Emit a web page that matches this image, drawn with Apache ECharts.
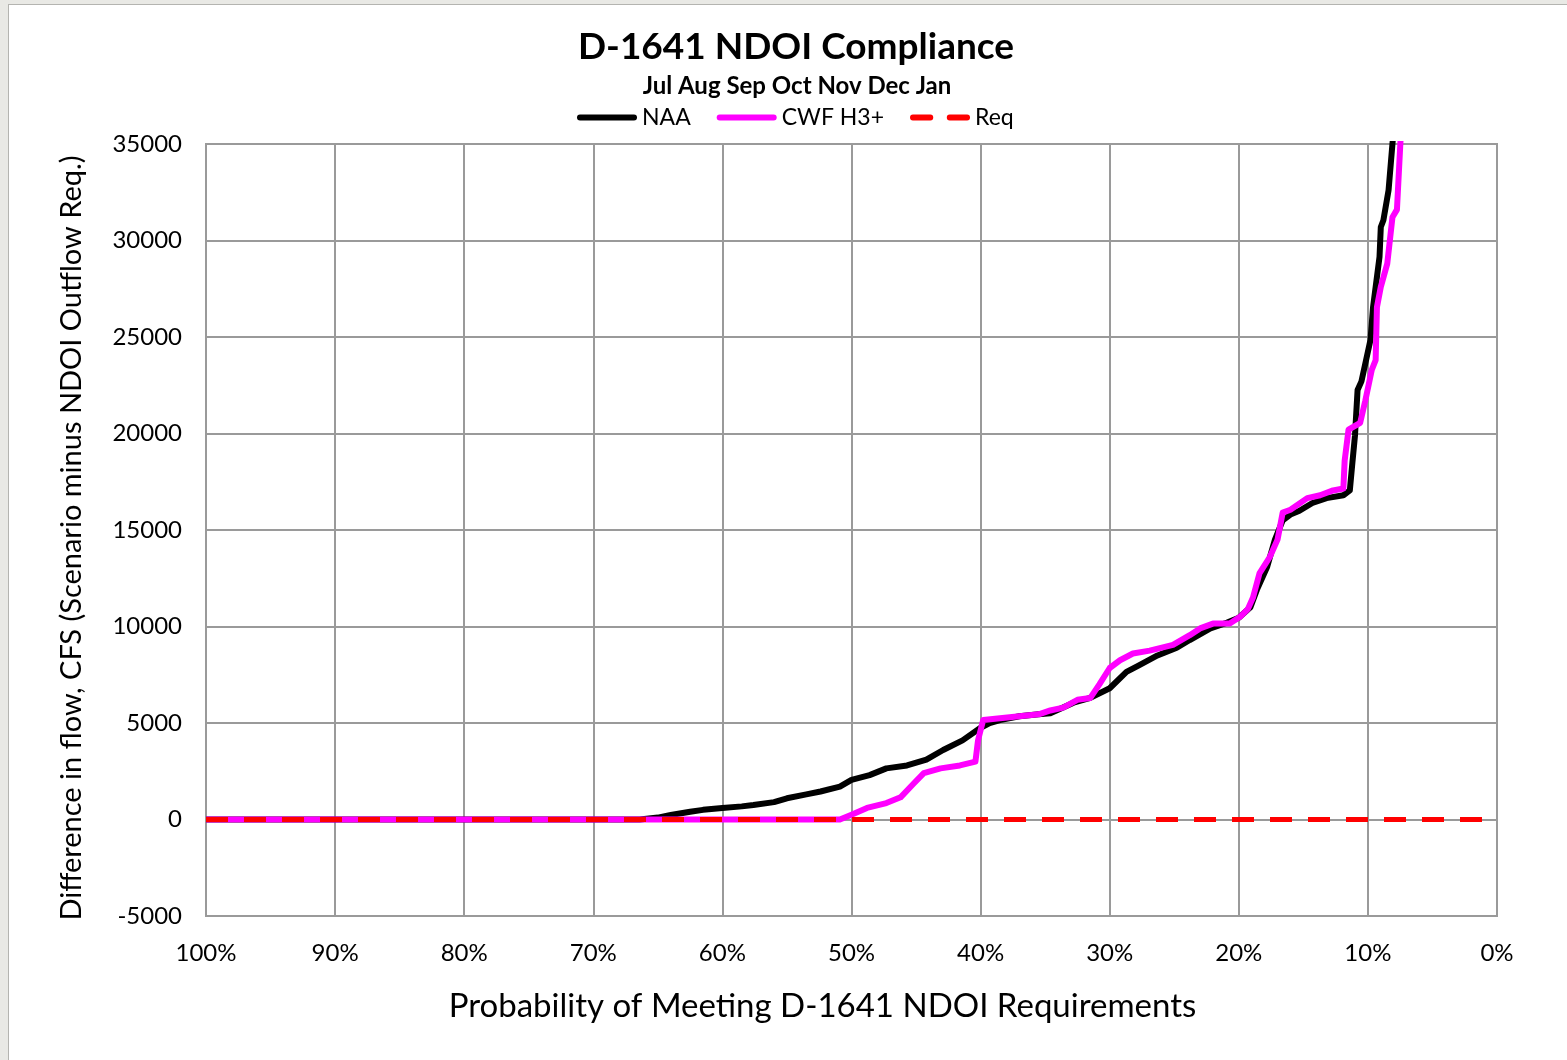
<!DOCTYPE html>
<html>
<head>
<meta charset="utf-8">
<script src="https://cdn.jsdelivr.net/npm/echarts@6/dist/echarts.min.js"></script>
<style>
  html, body { margin: 0; padding: 0; background: #e9e9e5; }
  #frame { position: absolute; left: 8px; top: 4px; right: 0; bottom: 0; background: #fff;
           border-left: 1px solid #b4b4b0; border-top: 1px solid #b4b4b0; }
  #chart { position: absolute; left: 0; top: 0; width: 1567px; height: 1060px; }
</style>
</head>
<body>
<div id="frame"></div>
<div id="chart"></div>
<script>
// exceedance probability (%) and difference in flow (cfs)
const naaX = [100, 66.4, 65, 64, 62.5, 61.5, 60, 58.5, 57.6, 56, 55, 53.5, 52.4, 50.9, 50, 48.6, 47.3, 45.7, 44.2, 42.9, 41.4, 40, 39.3, 38.5, 37, 35.5, 34.6,
  32.8, 31.5, 30, 28.7, 27.7, 26.3, 24.8, 23.8, 22.2, 20.9, 20, 19.1, 18.6, 17.8, 17.2, 16.6, 16, 15.3, 14.3, 13.2, 11.9, 11.4,
  11.2, 11.0, 10.8, 10.5, 9.8, 9.6, 9.1, 9.0, 8.8, 8.4, 8.1, 7.9];
const naaY = [0, 0, 100, 230, 400, 500, 600, 680, 750, 900, 1100, 1300, 1450, 1700, 2050, 2300, 2650, 2800, 3100, 3600, 4100, 4750, 5000, 5150, 5350, 5450, 5500,
  6050, 6300, 6800, 7650, 8000, 8500, 8900, 9300, 9900, 10200, 10450, 11000, 11900, 13100, 14500, 15500, 15800, 16000, 16400, 16650, 16800, 17050,
  18500, 19900, 22250, 22700, 24850, 26550, 29150, 30700, 31050, 32600, 35000, 36500];

const cwfX = [100, 50.9, 50, 48.8, 47.3, 46.2, 45.2, 44.4, 43.1, 41.6, 40.4, 40.2, 39.8, 38.5, 37, 35.5, 34.6, 33.6, 32.5, 31.5, 30.8,
  30, 29.2, 28.2, 26.9, 25.1, 23.8, 23, 22, 20.7, 19.9, 19.3, 18.9, 18.4, 17.6, 17, 16.6, 16, 14.7, 13.7, 12.7, 11.9, 11.8, 11.5,
  10.6, 10.2, 9.7, 9.4, 9.3, 9.0, 8.5, 8.1, 7.75, 7.5, 7.4];
const cwfY = [0, 0, 250, 600, 850, 1150, 1850, 2400, 2650, 2800, 3000, 4100, 5150, 5250, 5350, 5450, 5650, 5800, 6200, 6300, 7000,
  7850, 8250, 8600, 8750, 9050, 9550, 9900, 10150, 10150, 10500, 10900, 11500, 12750, 13600, 14500, 15900, 16050, 16650, 16800, 17050, 17150, 18600, 20200,
  20550, 21700, 23300, 23800, 26550, 27600, 28800, 31200, 31600, 34850, 36000];

const reqX = [100, 0];
const reqY = [0, 0];

const xTicks = [0, 10, 20, 30, 40, 50, 60, 70, 80, 90, 100];

const font = 'Lato';
const pair = (xs, ys) => xs.map((x, i) => [x, ys[i]]);

const solidIcon = 'path://M3,0H57A3,3,0,0,1,57,6H3A3,3,0,0,1,3,0Z';
const dashIcon = 'path://M2,0H20A3,3,0,0,1,20,6H2A3,3,0,0,1,2,0Z M40,0H58A3,3,0,0,1,58,6H40A3,3,0,0,1,40,0Z';

const chart = echarts.init(document.getElementById('chart'));
chart.setOption({
  animation: false,
  textStyle: { fontFamily: font, color: '#000' },
  title: [
    { text: 'D-1641 NDOI Compliance', left: 791, top: 24, textAlign: 'center',
      textStyle: { fontFamily: font, fontSize: 37, fontWeight: 'bold', color: '#000' } },
    { text: 'Jul Aug Sep Oct Nov Dec Jan', left: 792, top: 69, textAlign: 'center',
      textStyle: { fontFamily: font, fontSize: 24, fontWeight: 'bold', color: '#000' } }
  ],
  legend: {
    left: 572, top: 101,
    itemWidth: 60, itemHeight: 6, itemGap: 26,
    textStyle: { fontFamily: font, fontSize: 23, color: '#000' },
    data: [
      { name: 'NAA', icon: solidIcon },
      { name: 'CWF H3+', icon: solidIcon },
      { name: 'Req', icon: dashIcon }
    ]
  },
  grid: {
    left: 206, top: 144, width: 1291, height: 772,
    show: true, borderColor: '#9a9a9a', borderWidth: 2, backgroundColor: '#fff'
  },
  xAxis: {
    type: 'value', inverse: true, min: 0, max: 100, interval: 10,
    name: 'Probability of Meeting D-1641 NDOI Requirements',
    nameLocation: 'middle', nameGap: 74,
    nameTextStyle: { fontFamily: font, fontSize: 33, color: '#000', padding: [0, 58, 0, 0] },
    axisLine: { show: false }, axisTick: { show: false },
    axisLabel: { fontFamily: font, fontSize: 24, color: '#000', margin: 25,
      formatter: v => xTicks.includes(v) ? v + '%' : '' },
    splitLine: { show: true, lineStyle: { color: '#9a9a9a', width: 2 } }
  },
  yAxis: {
    type: 'value', min: -5000, max: 35000, interval: 5000,
    name: 'Difference in flow, CFS (Scenario minus NDOI Outflow Req.)',
    nameLocation: 'middle', nameGap: 120,
    nameTextStyle: { fontFamily: font, fontSize: 29, color: '#000', padding: [0, 16, 0, 0] },
    axisLine: { show: false }, axisTick: { show: false },
    axisLabel: { fontFamily: font, fontSize: 24, color: '#000', margin: 24, formatter: v => String(v) },
    splitLine: { show: true, lineStyle: { color: '#9a9a9a', width: 2 } }
  },
  series: [
    { name: 'NAA', type: 'line', data: pair(naaX, naaY), symbol: 'none', clip: true,
      itemStyle: { color: '#000' }, lineStyle: { color: '#000', width: 6, join: 'round' }, z: 3 },
    { name: 'CWF H3+', type: 'line', data: pair(cwfX, cwfY), symbol: 'none', clip: true,
      itemStyle: { color: '#ff00ff' }, lineStyle: { color: '#ff00ff', width: 6, join: 'round' }, z: 4 },
    { name: 'Req', type: 'line', data: pair(reqX, reqY), symbol: 'none', clip: true,
      itemStyle: { color: '#ff0000' }, lineStyle: { color: '#ff0000', width: 5, type: [22, 16] }, z: 5 }
  ]
});
</script>
</body>
</html>
